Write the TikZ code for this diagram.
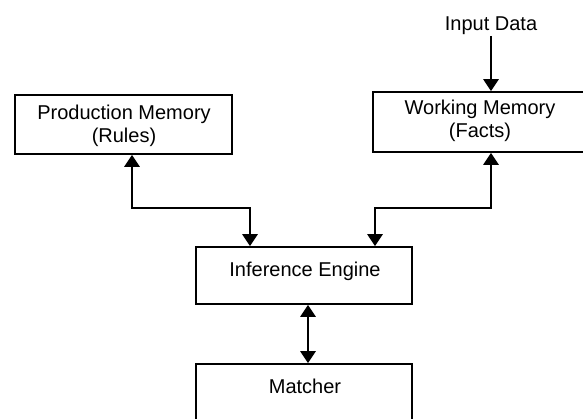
\documentclass[tikz,border=0pt]{standalone}
\usepackage{fontspec}
\setmainfont{Liberation Sans}
\usetikzlibrary{arrows.meta}
\tikzset{
  box/.style={draw, line width=1.6pt, rectangle, inner sep=0pt},
  lbl/.style={font=\fontsize{20}{23}\selectfont, align=center, inner sep=0pt},
  tip/.style={Triangle[length=12pt,width=15pt]},
  flow/.style={line width=2.6pt, -{Triangle[length=12pt,width=15pt]}},
  biflow/.style={line width=2.6pt, {Triangle[length=12pt,width=15pt]}-{Triangle[length=12pt,width=15pt]}},
}
\begin{document}
\begin{tikzpicture}[x=1pt,y=-1pt]
  \useasboundingbox (0,0) rectangle (583,419);
  \clip (0,0) rectangle (583,419);
  \fill[white] (0,0) rectangle (583,419);

  % boxes
  \node[box, minimum width=217pt, minimum height=59pt] (pm) at (123.5,124.5) {};
  \node[box, minimum width=219pt, minimum height=60pt] (wm) at (482.5,122) {};
  \node[box, minimum width=216pt, minimum height=57pt] (ie) at (304,275.5) {};
  \node[box, minimum width=216pt, minimum height=60pt] (ma) at (304,394) {};

  % texts
  \node[lbl] (pmt) at (124,126) {Production Memory\\(Rules)};
  \node[lbl] (wmt) at (480,121) {Working Memory\\(Facts)};
  \node[lbl, anchor=base] (iet) at (305,277) {Inference Engine};
  \node[lbl, anchor=base] (mat) at (305,393) {Matcher};
  \node[lbl, anchor=base] (inp) at (491,31) {Input Data};

  % bend points of the connectors
  \coordinate (pmc) at (132,208);
  \coordinate (iel) at (250,208);
  \coordinate (wmc) at (491,208);
  \coordinate (ier) at (375,208);
  \coordinate (mid) at (308,0);
  \coordinate (inb) at (491,36);

  % connectors
  \draw[flow] (inb) -- (inb |- wm.north);
  \draw[biflow] (pmc |- pm.south) -- (pmc) -- (iel) -- (iel |- ie.north);
  \draw[biflow] (wmc |- wm.south) -- (wmc) -- (ier) -- (ier |- ie.north);
  \draw[biflow] (mid |- ie.south) -- (mid |- ma.north);
\end{tikzpicture}
\end{document}
